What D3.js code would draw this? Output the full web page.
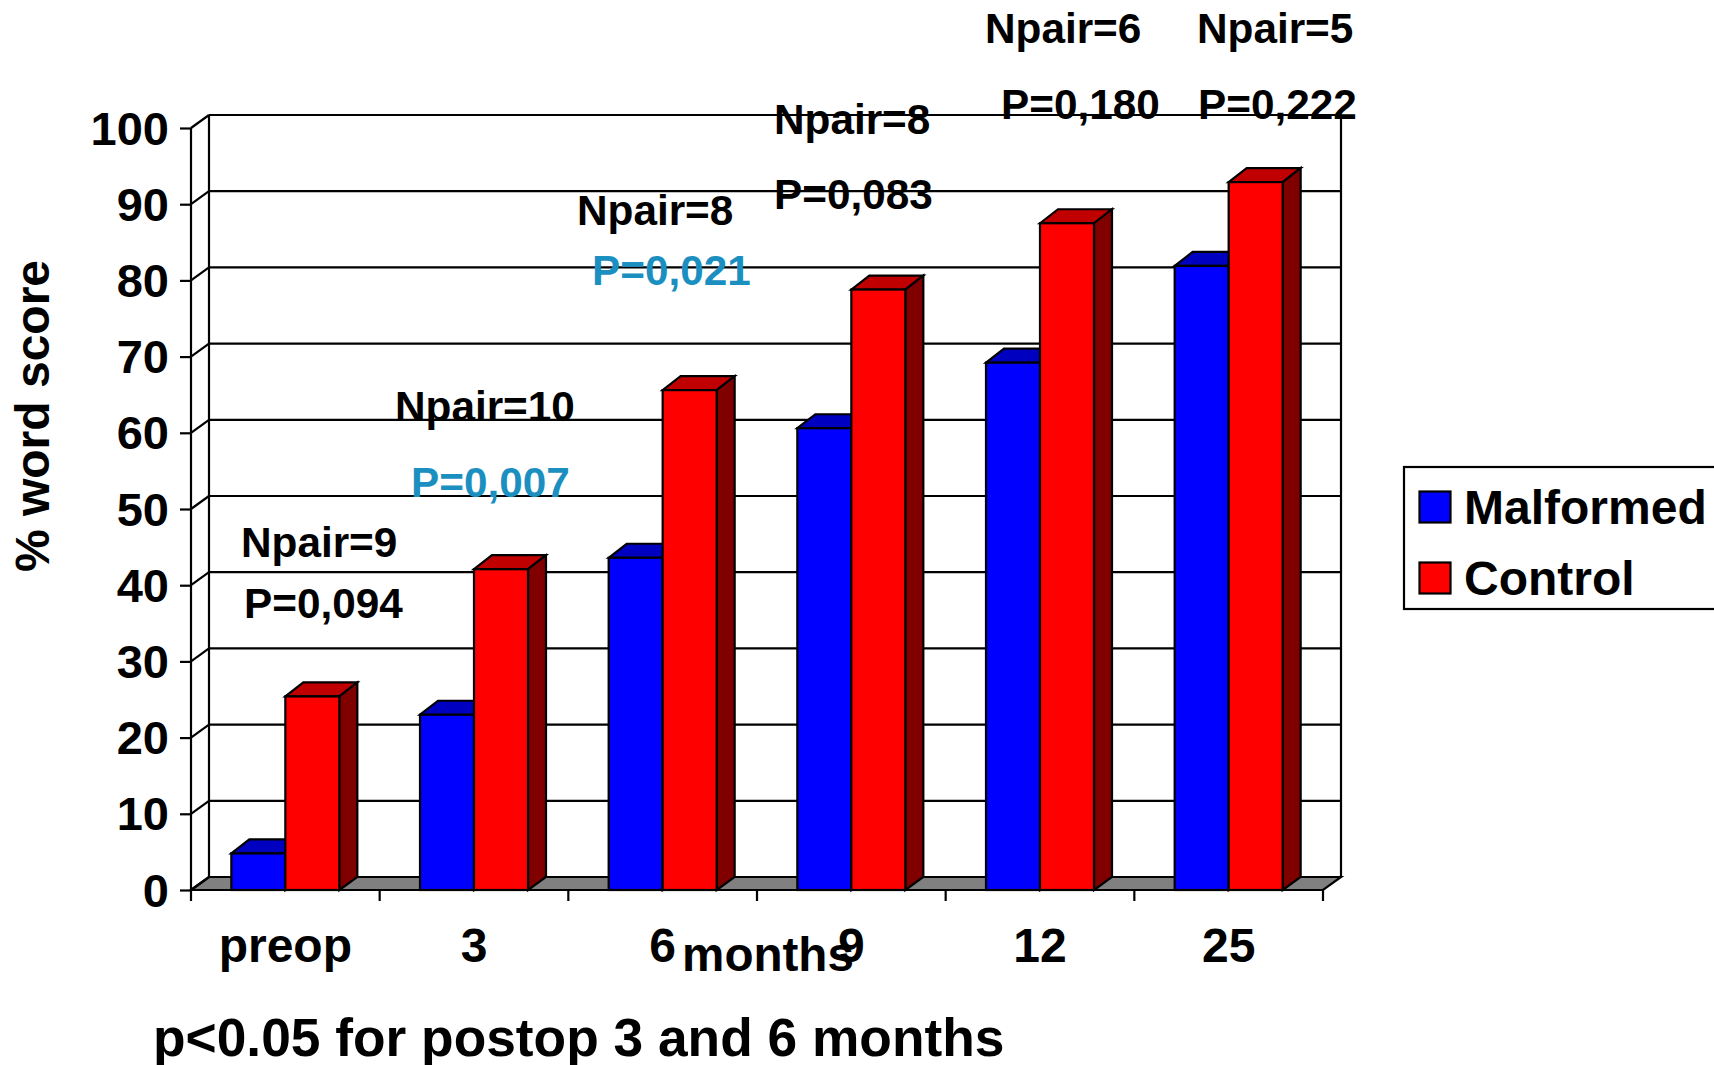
<!DOCTYPE html>
<html><head><meta charset="utf-8">
<script src="https://cdn.jsdelivr.net/npm/d3@7"></script>
<style>html,body{margin:0;padding:0;background:#fff}svg{display:block}text{font-family:"Liberation Sans",Arial,sans-serif;font-weight:bold;fill:#000}</style>
</head><body><svg id="c" width="1714" height="1065"></svg>
<script>
const categories = ["preop","3","6","9","12","25"];
const malformed = [4.8,23.0,43.6,60.6,69.2,81.9];
const control = [25.4,42.1,65.6,78.8,87.5,92.9];
const yTicks = [0,10,20,30,40,50,60,70,80,90,100];
const seriesNames = ["Malformed","Control"];
const npairLabels = ["Npair=9","Npair=10","Npair=8","Npair=8","Npair=6","Npair=5"];
const pLabels = ["P=0,094","P=0,007","P=0,021","P=0,083","P=0,180","P=0,222"];
const significant = [false,true,true,false,false,false];

const svg = d3.select("#c");
const dx = 18, dy = 13, barDy = 14;
const x = d3.scaleBand().domain(categories).range([191,1323]);
const y = d3.scaleLinear().domain([0,100]).range([890,128]);
const barW = x.bandwidth()*54/188.67;
const BLACK="#000", SW=2.2;

// floor
const bl=x.range()[0], br=x.range()[1], y0=y(0);
svg.append("path").attr("d",`M${bl},${y0}L${bl+dx},${y0-dy}L${br+dx},${y0-dy}L${br},${y0}Z`)
  .attr("fill","#808080").attr("stroke",BLACK).attr("stroke-width",SW);
// back wall grid and left wall
svg.append("g").selectAll("line").data(yTicks.slice(1)).join("line")
  .attr("x1",bl+dx).attr("x2",br+dx).attr("y1",d=>y(d)-dy).attr("y2",d=>y(d)-dy)
  .attr("stroke",BLACK).attr("stroke-width",SW);
svg.append("g").selectAll("line").data(yTicks).join("line")
  .attr("x1",bl).attr("x2",bl+dx).attr("y1",d=>y(d)).attr("y2",d=>y(d)-dy)
  .attr("stroke",BLACK).attr("stroke-width",SW);
svg.append("line").attr("x1",bl+dx).attr("x2",bl+dx).attr("y1",y(100)-dy).attr("y2",y0-dy).attr("stroke",BLACK).attr("stroke-width",SW);
svg.append("line").attr("x1",br+dx).attr("x2",br+dx).attr("y1",y(100)-dy).attr("y2",y0-dy).attr("stroke",BLACK).attr("stroke-width",SW);

// bars
function bar(g,bx,v,front,top,side){
  const t=y(v);
  g.append("path").attr("d",`M${bx},${t}L${bx+dx},${t-barDy}L${bx+barW+dx},${t-barDy}L${bx+barW},${t}Z`).attr("fill",top);
  g.append("path").attr("d",`M${bx+barW},${t}L${bx+barW+dx},${t-barDy}L${bx+barW+dx},${y0-dy}L${bx+barW},${y0}Z`).attr("fill",side);
  g.append("rect").attr("x",bx).attr("y",t).attr("width",barW).attr("height",y0-t).attr("fill",front);
  g.selectAll("path,rect").attr("stroke",BLACK).attr("stroke-width",SW).attr("stroke-linejoin","miter");
}
categories.forEach((c,i)=>{
  const mid=x(c)+x.bandwidth()/2;
  bar(svg.append("g"),mid-barW,malformed[i],"#0000ff","#0000c0","#000080");
  bar(svg.append("g"),mid,control[i],"#ff0000","#c00000","#800000");
});

// axes
const yAxis=d3.axisLeft(y).tickValues(yTicks).tickSize(11).tickPadding(11);
const gy=svg.append("g").attr("transform",`translate(${bl},1)`).call(yAxis);
gy.selectAll("line").attr("transform","translate(0,-1)");
gy.selectAll("line,path").attr("stroke",BLACK).attr("stroke-width",SW);
gy.select("path").attr("transform","translate(0,-1)").attr("d",`M0,${y(100)}V${y0}`);
gy.selectAll("text").style("font-size","47px");

const xAxis=d3.axisBottom(x).tickSize(0).tickPadding(38);
const gx=svg.append("g").attr("transform",`translate(0,${y0})`).call(xAxis);
gx.select("path").attr("stroke",BLACK).attr("stroke-width",SW).attr("d",`M${bl},0H${br}`);
gx.selectAll("text").style("font-size","48px");
gx.selectAll("line.edge").data(d3.range(categories.length+1)).join("line").attr("class","edge")
  .attr("x1",i=>bl+i*x.bandwidth()).attr("x2",i=>bl+i*x.bandwidth()).attr("y1",0).attr("y2",11)
  .attr("stroke",BLACK).attr("stroke-width",SW);

// titles
svg.append("text").attr("transform","translate(49,416) rotate(-90)").attr("text-anchor","middle").style("font-size","48px").text("% word score");
svg.append("text").attr("x",768).attr("y",971).attr("text-anchor","middle").style("font-size","47.6px").text("months");
svg.append("text").attr("x",153).attr("y",1056).style("font-size","53.3px").text("p<0.05 for postop 3 and 6 months");

// annotations
const npairX=[241,395,577,774,985,1197];
const npairY=[557,421,225,134,43,43];
const pX=[244,411,592,774,1001,1198];
const pY=[618,497,285,209,119,119];
const ann=svg.append("g").style("font-size","42.3px");
ann.selectAll("text.n").data(npairLabels).join("text").attr("class","n")
  .attr("x",(d,i)=>npairX[i]).attr("y",(d,i)=>npairY[i]).text(d=>d);
ann.selectAll("text.p").data(pLabels).join("text").attr("class","p")
  .attr("x",(d,i)=>pX[i]).attr("y",(d,i)=>pY[i]).style("fill",(d,i)=>significant[i]?"#1b8fc0":"#000").text(d=>d);

// legend
const lg=svg.append("g");
lg.append("rect").attr("x",1404).attr("y",467).attr("width",320).attr("height",142).attr("fill","#fff").attr("stroke",BLACK).attr("stroke-width",SW);
const legendColor=d3.scaleOrdinal().domain(seriesNames).range(["#0000ff","#ff0000"]);
const ly=d3.scalePoint().domain(seriesNames).range([507,578]);
lg.selectAll("rect.k").data(seriesNames).join("rect").attr("class","k")
  .attr("x",1419.5).attr("y",d=>ly(d)-15.5).attr("width",31).attr("height",31)
  .attr("fill",d=>legendColor(d)).attr("stroke",BLACK).attr("stroke-width",SW);
lg.selectAll("text").data(seriesNames).join("text")
  .attr("x",1464).attr("y",d=>ly(d)+17).style("font-size","48px").text(d=>d);
</script></body></html>
